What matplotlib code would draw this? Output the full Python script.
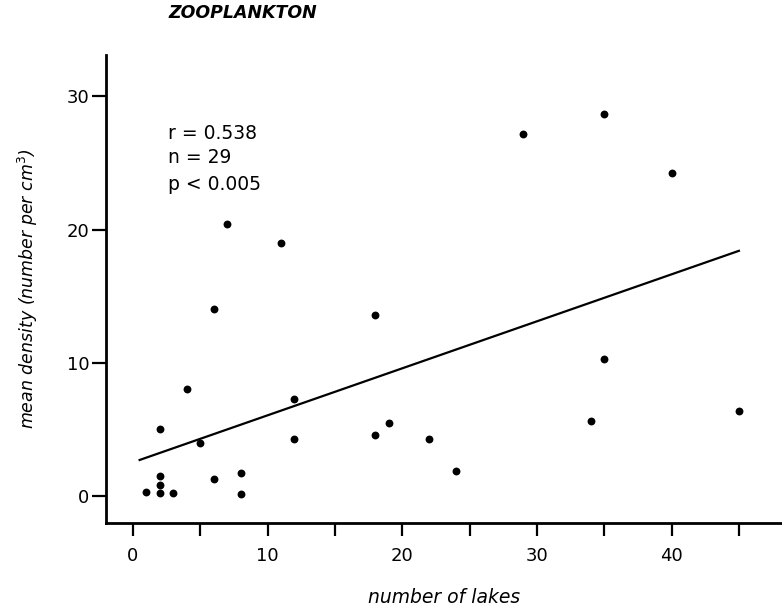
import matplotlib
matplotlib.use("Agg")
import matplotlib.pyplot as plt

# number of lakes vs mean zooplankton density
n_lakes = [1, 2, 2, 2, 3, 2, 4, 5, 6, 8, 8, 6, 7, 11, 12, 12,
           18, 18, 19, 22, 24, 29, 35, 40, 35, 34, 45]
density = [0.3, 0.25, 0.85, 1.5, 0.2, 5.0, 8.0, 4.0, 1.3, 1.7, 0.15, 14.0, 20.4, 19.0, 7.3, 4.3,
           13.6, 4.6, 5.45, 4.25, 1.9, 27.2, 28.7, 24.25, 10.3, 5.6, 6.4]

# regression line end points
fit_x = [0.5, 45]
fit_y = [2.7, 18.4]

stats_lines = ["r = 0.538", "n = 29", "p < 0.005"]
stats_y = [27.2, 25.4, 23.4]

xticks_major = [0, 10, 20, 30, 40]
xticks_minor = [5, 15, 25, 35, 45]
yticks = [0, 10, 20, 30]

plt.rcParams['font.family'] = ['DejaVu Sans']

fig = plt.figure(figsize=(7.82, 6.07), dpi=100)
ax = fig.add_axes([0.1355, 0.1384, 0.8645, 0.771])

ax.scatter(n_lakes, density, s=32, color='black', zorder=3, linewidths=0)
ax.plot(fit_x, fit_y, color='black', lw=1.6)

for txt, yy in zip(stats_lines, stats_y):
    ax.text(2.6, yy, txt, fontsize=13.5, va='center', ha='left')

ax.set_xlim(-2.0, 48.2)
ax.set_ylim(-2.03, 33.1)

for side in ['top', 'right']:
    ax.spines[side].set_visible(False)
for side in ['left', 'bottom']:
    ax.spines[side].set_linewidth(2.0)

ax.set_xticks(xticks_major)
ax.set_xticks(xticks_minor, minor=True)
ax.set_yticks(yticks)
ax.tick_params(axis='x', which='both', direction='out', length=9, width=1.6, pad=8, labelsize=13)
ax.tick_params(axis='y', direction='out', length=10, width=1.6, pad=2, labelsize=13)

ax.set_xlabel("number of lakes", fontsize=13.5, style='italic', va='center')
ax.xaxis.set_label_coords(0.5, -0.160)
ax.set_ylabel("mean density (number per cm$^3$)", fontsize=12.5, style='italic', va='center')
ax.yaxis.set_label_coords(-0.115, 0.5)

fig.text(0.2148, 0.9786, "ZOOPLANKTON", fontsize=12.5, fontweight='bold',
         style='italic', va='center', ha='left')

fig.savefig("out.png", dpi=100)
plt.close(fig)
